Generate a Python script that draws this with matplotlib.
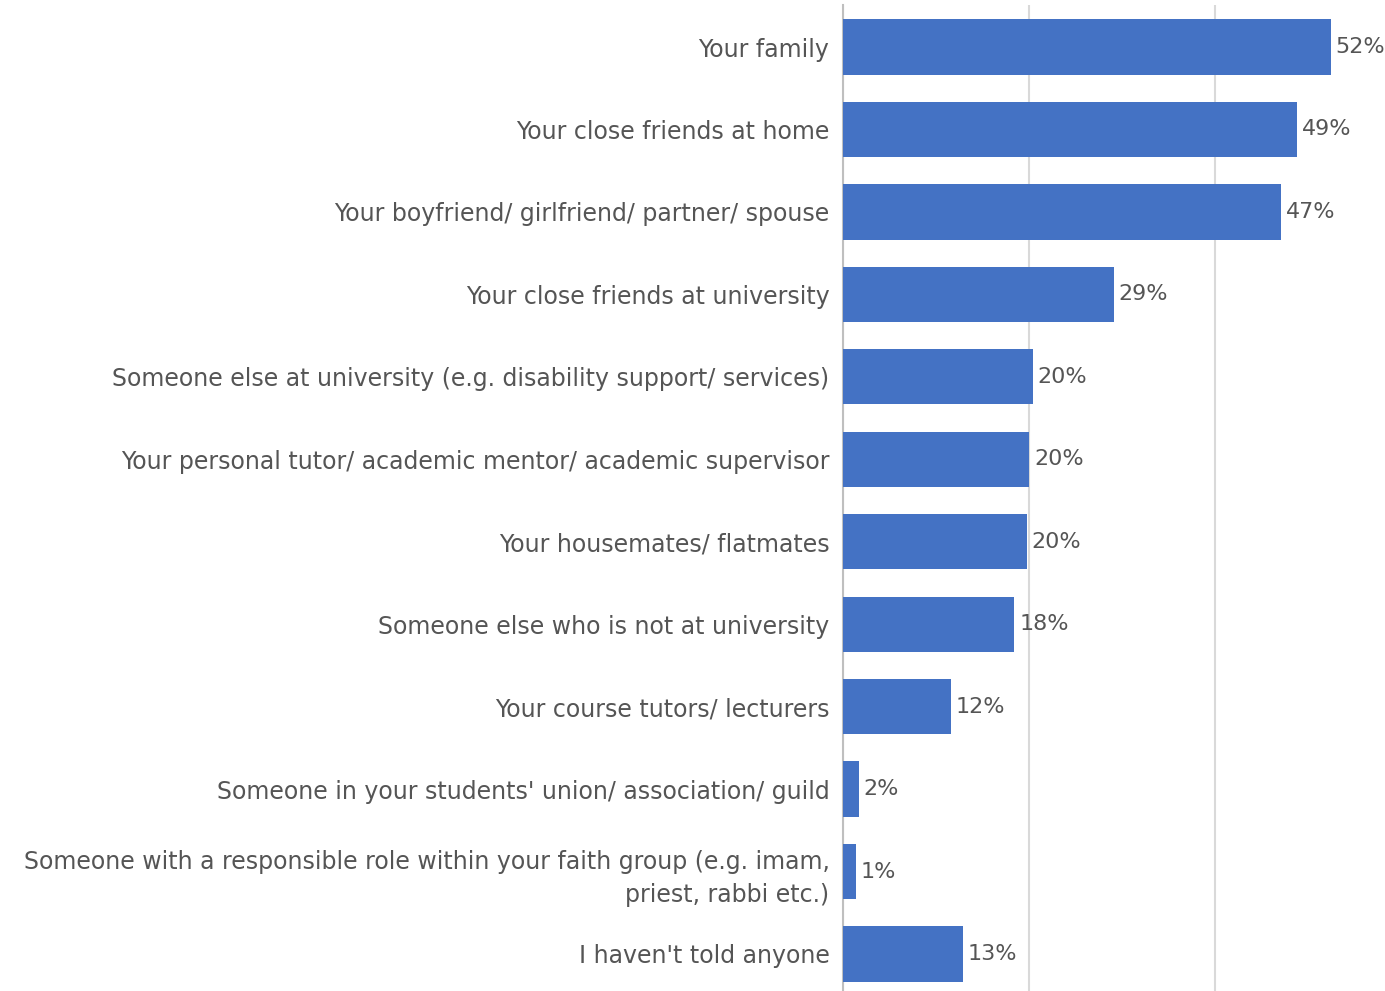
import matplotlib.pyplot as plt

# Who respondents have told (share of respondents, %)
categories = [
    "Your family",
    "Your close friends at home",
    "Your boyfriend/ girlfriend/ partner/ spouse",
    "Your close friends at university",
    "Someone else at university (e.g. disability support/ services)",
    "Your personal tutor/ academic mentor/ academic supervisor",
    "Your housemates/ flatmates",
    "Someone else who is not at university",
    "Your course tutors/ lecturers",
    "Someone in your students' union/ association/ guild",
    "Someone with a responsible role within your faith group (e.g. imam,\npriest, rabbi etc.)",
    "I haven't told anyone",
]
values = [52.4, 48.8, 47.1, 29.1, 20.4, 20.0, 19.7, 18.4, 11.6, 1.7, 1.4, 12.9]

bar_color = "#4472C4"
text_color = "#555555"

plt.rcParams["font.family"] = ["DejaVu Sans"]

fig = plt.figure(figsize=(13.85, 9.91), dpi=100)
ax = fig.add_axes([843.3 / 1385, 0, 1 - 843.3 / 1385, 986 / 991])

y = list(range(len(categories)))
ax.barh(y, values, height=0.67, color=bar_color, zorder=3)

for yi, v in zip(y, values):
    ax.text(v + 0.5, yi, f"{v:.0f}%", va="center", ha="left",
            fontsize=16, color=text_color, zorder=4)

ax.set_xlim(0, (1385 - 843.3) / 9.3)
ax.set_ylim(11 + 37 / 82.45, -42 / 82.45)
ax.set_xticks([0, 20, 40])
ax.set_xticklabels([])
ax.tick_params(axis="x", length=0)
ax.grid(axis="x", color="#d9d9d9", linewidth=1.5, zorder=0)

ax.set_yticks(y)
ax.set_yticklabels(categories, fontsize=17, color=text_color, ha="right",
                   multialignment="right", linespacing=1.45)
ax.tick_params(axis="y", length=0, pad=10)

for side in ["top", "right", "bottom"]:
    ax.spines[side].set_visible(False)
ax.spines["left"].set_color("#bfbfbf")
ax.spines["left"].set_linewidth(1.5)

fig.savefig("out.png", dpi=100, facecolor="white")
